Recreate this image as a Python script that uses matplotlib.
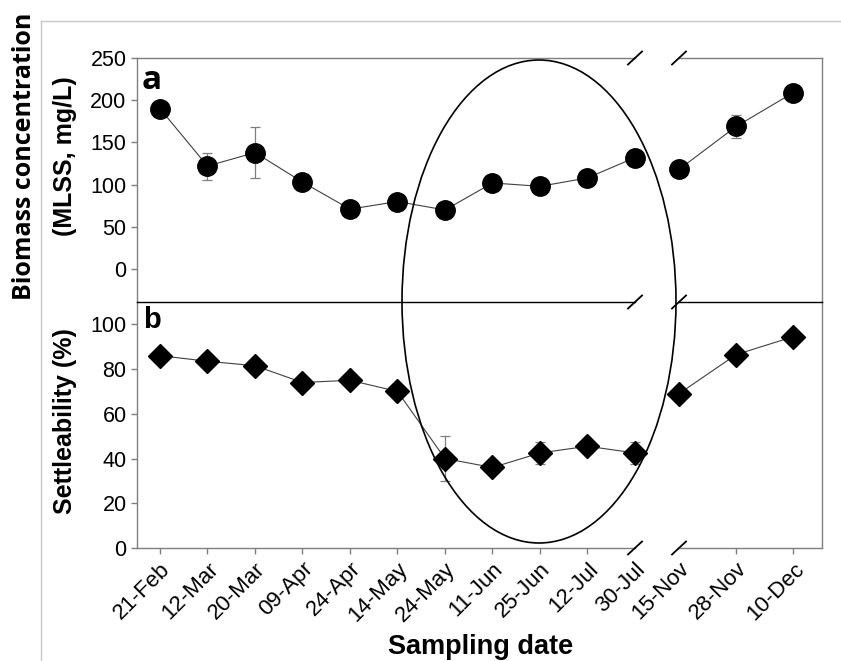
import numpy as np
import matplotlib.pyplot as plt
from matplotlib.patches import Ellipse
from matplotlib.lines import Line2D

# sampling dates, split around the axis break
dates_left = ["21-Feb", "12-Mar", "20-Mar", "09-Apr", "24-Apr", "14-May",
              "24-May", "11-Jun", "25-Jun", "12-Jul", "30-Jul"]
dates_right = ["15-Nov", "28-Nov", "10-Dec"]

# (a) biomass concentration, MLSS mg/L
mlss_left = [190, 122, 138, 103, 71, 80, 70, 102, 98, 108, 132]
mlss_left_err = [0, 16, 30, 0, 0, 0, 0, 0, 0, 0, 0]
mlss_right = [118, 169, 209]
mlss_right_err = [0, 14, 0]

# (b) settleability, %
settle_left = [86, 83.5, 81.5, 74, 75, 70, 40, 36, 42.5, 45.5, 42.5]
settle_left_err = [0, 0, 0, 0, 0, 0, 10, 0, 5, 0, 5]
settle_right = [69, 86.5, 94.5]
settle_right_err = [0, 0, 0]

W, H = 841, 661
fig = plt.figure(figsize=(W / 100, H / 100), dpi=100)


def box(x0, y0, x1, y1):
    # pixel box (top-left origin) -> figure fraction
    return [x0 / W, 1 - y1 / H, (x1 - x0) / W, (y1 - y0) / H]


def fpt(x, y):
    return x / W, 1 - y / H


ax_tl = fig.add_axes(box(137, 58, 635, 302))
ax_tr = fig.add_axes(box(679, 58, 822, 302))
ax_bl = fig.add_axes(box(137, 302, 635, 548))
ax_br = fig.add_axes(box(679, 302, 822, 548))

grey = "#7f7f7f"
xl = np.arange(len(dates_left))
xr = np.arange(len(dates_right))

for ax in (ax_tl, ax_tr, ax_bl, ax_br):
    for s in ax.spines.values():
        s.set_color(grey)
        s.set_linewidth(1.0)
    ax.tick_params(direction="out", length=4, color=grey, labelsize=15.5,
                   width=1.0)
    for lab in ax.get_xticklabels() + ax.get_yticklabels():
        lab.set_family("Liberation Sans")

# left/right spines at the break are removed
for ax in (ax_tl, ax_bl):
    ax.spines["right"].set_visible(False)
    ax.set_xlim(-0.484, 10)
for ax in (ax_tr, ax_br):
    ax.spines["left"].set_visible(False)
    ax.set_xlim(0, 2.5)
    ax.tick_params(axis="y", left=False, labelleft=False)

for ax in (ax_tl, ax_tr):
    ax.set_ylim(-39, 250)
    ax.spines["bottom"].set_visible(False)
    ax.tick_params(axis="x", bottom=False, labelbottom=False)
for ax in (ax_bl, ax_br):
    ax.set_ylim(0, 110)
    ax.spines["top"].set_color("black")

ax_tl.set_yticks(np.arange(0, 251, 50))
ax_bl.set_yticks(np.arange(0, 101, 20))

# top panel: circles
kw_line = dict(color="#404040", lw=0.8, ecolor=grey, elinewidth=0.9,
               capsize=3.5, capthick=0.9, clip_on=False, zorder=3)
ax_tl.errorbar(xl, mlss_left, yerr=mlss_left_err, fmt="o", ms=14,
               mfc="black", mec="black", ls="-", **kw_line)
ax_tr.errorbar(xr, mlss_right, yerr=mlss_right_err, fmt="o", ms=14,
               mfc="black", mec="black", ls="-", **kw_line)

# bottom panel: diamonds
ax_bl.errorbar(xl, settle_left, yerr=settle_left_err, fmt="D", ms=12,
               mfc="black", mec="black", ls="-", **kw_line)
ax_br.errorbar(xr, settle_right, yerr=settle_right_err, fmt="D", ms=12,
               mfc="black", mec="black", ls="-", **kw_line)

ax_bl.set_xticks(xl)
ax_bl.set_xticklabels(dates_left, rotation=45, ha="right",
                      rotation_mode="anchor", family="Liberation Sans",
                      fontsize=16)
ax_br.set_xticks(xr)
ax_br.set_xticklabels(dates_right, rotation=45, ha="right",
                      rotation_mode="anchor", family="Liberation Sans",
                      fontsize=16)
# tick marks at the break edges are hidden behind the slashes
ax_bl.get_xticklines()[-2].set_visible(False)
ax_br.get_xticklines()[0].set_visible(False)

# panel letters
ax_tl.text(0.01, 0.975, "a", transform=ax_tl.transAxes, ha="left", va="top",
           fontsize=24, fontweight="bold", family="Open Sans")
ax_bl.text(0.012, 0.985, "b", transform=ax_bl.transAxes, ha="left", va="top",
           fontsize=21, fontweight="bold", family="Liberation Sans")

# axis titles
fig.text(*fpt(25, 156), "Biomass concentration", rotation=90, ha="center",
         va="center", fontsize=18, fontweight="bold", family="Open Sans")
fig.text(*fpt(65, 156), "(MLSS, mg/L)", rotation=90, ha="center",
         va="center", fontsize=18, fontweight="bold", family="Liberation Sans")
fig.text(*fpt(65, 421), "Settleability (%)", rotation=90, ha="center",
         va="center", fontsize=18, fontweight="bold", family="Liberation Sans")
fig.text(*fpt(481, 654), "Sampling date", ha="center", va="baseline",
         fontsize=19.5, fontweight="bold", family="Liberation Sans")

# break slashes
for cx in (635, 679):
    for cy in (58, 302, 548):
        x0, y0 = fpt(cx - 7, cy + 6.5)
        x1, y1 = fpt(cx + 7, cy - 6.5)
        fig.lines.append(Line2D([x0, x1], [y0, y1], transform=fig.transFigure,
                                color="black", lw=1.3))

# ellipse highlighting the summer samples
ex, ey = fpt(539, 301.5)
fig.patches.append(Ellipse((ex, ey), 274 / W, 483 / H, transform=fig.transFigure,
                           fill=False, ec="black", lw=1.2, zorder=5))

# outer frame lines
fig.lines.append(Line2D([41 / W, 1], [1 - 21 / H, 1 - 21 / H],
                        transform=fig.transFigure, color="#c8c8c8", lw=1))
fig.lines.append(Line2D([41 / W, 41 / W], [0, 1 - 21 / H],
                        transform=fig.transFigure, color="#c8c8c8", lw=1))

fig.savefig("out.png", dpi=100)
